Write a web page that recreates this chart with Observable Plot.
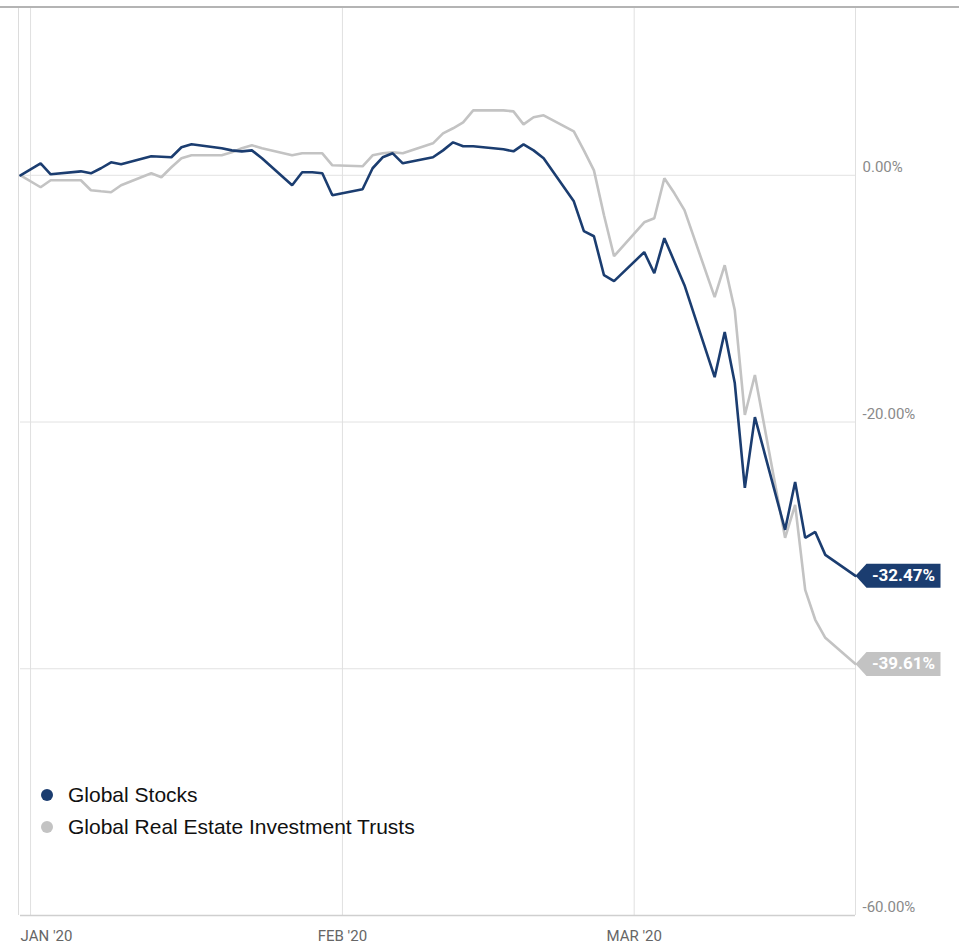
<!DOCTYPE html>
<html>
<head>
<meta charset="utf-8">
<script src="https://cdn.jsdelivr.net/npm/d3@7"></script>
<script src="https://cdn.jsdelivr.net/npm/@observablehq/plot@0.6"></script>
<style>
  html, body { margin: 0; padding: 0; background: #fff; }
  #wrap { position: relative; width: 959px; height: 945px; overflow: hidden; font-family: "Liberation Sans", Arial, sans-serif; }
  #topline { position: absolute; left: 0; top: 6px; width: 959px; height: 2px; background: #b4b4b4; }
  .leg { position: absolute; left: 41px; display: flex; align-items: center; font-size: 21px; color: #111; }
  .leg .dot { width: 12px; height: 12px; border-radius: 50%; margin-right: 15px; }
</style>
</head>
<body>
<div id="wrap"></div>
<script>
// ---- data ----
const dates = [
  "2019-12-31",
  "2020-01-02","2020-01-03","2020-01-06","2020-01-07","2020-01-08","2020-01-09","2020-01-10",
  "2020-01-13","2020-01-14","2020-01-15","2020-01-16","2020-01-17","2020-01-20","2020-01-21",
  "2020-01-22","2020-01-23","2020-01-24","2020-01-27","2020-01-28","2020-01-29","2020-01-30","2020-01-31",
  "2020-02-03","2020-02-04","2020-02-05","2020-02-06","2020-02-07","2020-02-10","2020-02-11",
  "2020-02-12","2020-02-13","2020-02-14","2020-02-17","2020-02-18","2020-02-19","2020-02-20",
  "2020-02-21","2020-02-24","2020-02-25","2020-02-26","2020-02-27","2020-02-28",
  "2020-03-02","2020-03-03","2020-03-04","2020-03-05","2020-03-06","2020-03-09","2020-03-10",
  "2020-03-11","2020-03-12","2020-03-13","2020-03-16","2020-03-17","2020-03-18","2020-03-19",
  "2020-03-20","2020-03-23"
];
const globalStocks = [
  0,
  0.97, 0.08, 0.32, 0.16, 0.57, 1.05, 0.89,
  1.54, 1.50, 1.46, 2.27, 2.51, 2.19, 2.02,
  1.94, 2.02, 1.38, -0.81, 0.24, 0.24, 0.16, -1.62,
  -1.13, 0.57, 1.46, 1.78, 0.97, 1.46, 2.02,
  2.67, 2.35, 2.35, 2.11, 1.94, 2.51, 2.02,
  1.38, -2.11, -4.53, -4.94, -8.10, -8.58,
  -6.23, -7.94, -5.10, -7.00, -8.91, -16.36, -12.71,
  -16.84, -25.34, -19.60, -28.74, -24.86, -29.39, -28.91,
  -30.77, -32.47
];
const globalReits = [
  0,
  -0.97, -0.40, -0.40, -1.21, -1.30, -1.38, -0.81,
  0.16, -0.16, 0.65, 1.38, 1.62, 1.62, 1.86,
  2.19, 2.43, 2.19, 1.62, 1.78, 1.78, 1.78, 0.81,
  0.73, 1.62, 1.78, 1.86, 1.78, 2.59, 3.40,
  3.81, 4.29, 5.26, 5.26, 5.18, 4.13, 4.70,
  4.86, 3.56, 2.02, 0.40, -3.24, -6.56,
  -3.81, -3.48, -0.24, -1.46, -2.83, -9.88, -7.29,
  -10.93, -19.43, -16.19, -29.39, -26.72, -33.60, -36.03,
  -37.49, -39.61
];
const seriesNames = ["Global Stocks", "Global Real Estate Investment Trusts"];
const seriesColors = ["#1b3d70", "#c3c3c3"];
const yGrid = [0, -20, -40];
const yTickLabels = [0, -20, -60];   // -40.00% is hidden behind the value tag in the original
const monthTicks = ["2020-01-01", "2020-02-01", "2020-03-01"];
const monthLabels = ["JAN '20", "FEB '20", "MAR '20"];

// ---- build ----
const parse = d3.utcParse("%Y-%m-%d");
const stocks = dates.map((d, i) => ({date: parse(d), value: globalStocks[i]}));
const reits = dates.map((d, i) => ({date: parse(d), value: globalReits[i]}));
const months = monthTicks.map((d, i) => ({date: parse(d), label: monthLabels[i], floor: -60}));
const pct = v => v.toFixed(2) + "%";
const lastStock = [stocks[stocks.length - 1]];
const lastReit = [reits[reits.length - 1]];

const tagSymbol = {
  draw(ctx) {
    ctx.moveTo(0, 0);
    ctx.lineTo(11, -12);
    ctx.lineTo(85, -12);
    ctx.lineTo(85, 12);
    ctx.lineTo(11, 12);
    ctx.closePath();
  }
};

const monthText = {x: "date", y: "floor", text: "label", lineAnchor: "middle", dy: 21, fill: "#666", fontSize: 15};

const chart = Plot.plot({
  width: 959,
  height: 945,
  marginTop: 7,
  marginBottom: 30,
  marginLeft: 20,
  marginRight: 104,
  x: {type: "utc", domain: [stocks[0].date, stocks[stocks.length - 1].date], axis: null},
  y: {domain: [-60, 13.6], axis: null},
  style: {fontFamily: "Roboto, 'Liberation Sans', sans-serif", background: "#fff"},
  marks: [
    Plot.ruleY(yGrid, {stroke: "#e2e2e2", strokeWidth: 1}),
    Plot.ruleX(months, {x: "date", stroke: "#e0e0e0", strokeWidth: 1}),
    Plot.ruleX([stocks[0]], {x: "date", stroke: "#dcdcdc", strokeWidth: 1, dx: -2}),
    Plot.ruleY([-60], {stroke: "#cfcfcf", strokeWidth: 1.5}),
    Plot.ruleX([stocks[stocks.length - 1]], {x: "date", stroke: "#e0e0e0", strokeWidth: 1}),
    Plot.text(yTickLabels, {y: d => d, text: d => pct(d), frameAnchor: "right", textAnchor: "start",
      lineAnchor: "middle", dx: 7, dy: -8, fill: "#8a8a8a", fontSize: 15}),
    Plot.text(months.slice(0, 1), {...monthText, textAnchor: "start", dx: -10}),
    Plot.text(months.slice(1), {...monthText, textAnchor: "middle"}),
    Plot.line(reits, {x: "date", y: "value", stroke: seriesColors[1], strokeWidth: 2.6, strokeLinejoin: "miter"}),
    Plot.line(stocks, {x: "date", y: "value", stroke: seriesColors[0], strokeWidth: 2.6, strokeLinejoin: "miter"}),
    Plot.dot(lastReit, {x: "date", y: "value", symbol: tagSymbol, fill: seriesColors[1], r: 10}),
    Plot.text(lastReit, {x: "date", y: "value", text: d => pct(d.value), dx: 48, fill: "#fff",
      fontWeight: "bold", fontSize: 17}),
    Plot.dot(lastStock, {x: "date", y: "value", symbol: tagSymbol, fill: seriesColors[0], r: 10}),
    Plot.text(lastStock, {x: "date", y: "value", text: d => pct(d.value), dx: 48, fill: "#fff",
      fontWeight: "bold", fontSize: 17})
  ]
});

const wrap = document.getElementById("wrap");
wrap.appendChild(chart);
const topLine = document.createElement("div");
topLine.id = "topline";
wrap.appendChild(topLine);

// legend
const legTops = [783, 815];
seriesNames.forEach((name, i) => {
  const row = document.createElement("div");
  row.className = "leg";
  row.style.top = legTops[i] + "px";
  const dot = document.createElement("span");
  dot.className = "dot";
  dot.style.background = seriesColors[i];
  const txt = document.createElement("span");
  txt.textContent = name;
  row.appendChild(dot);
  row.appendChild(txt);
  wrap.appendChild(row);
});
</script>
</body>
</html>
